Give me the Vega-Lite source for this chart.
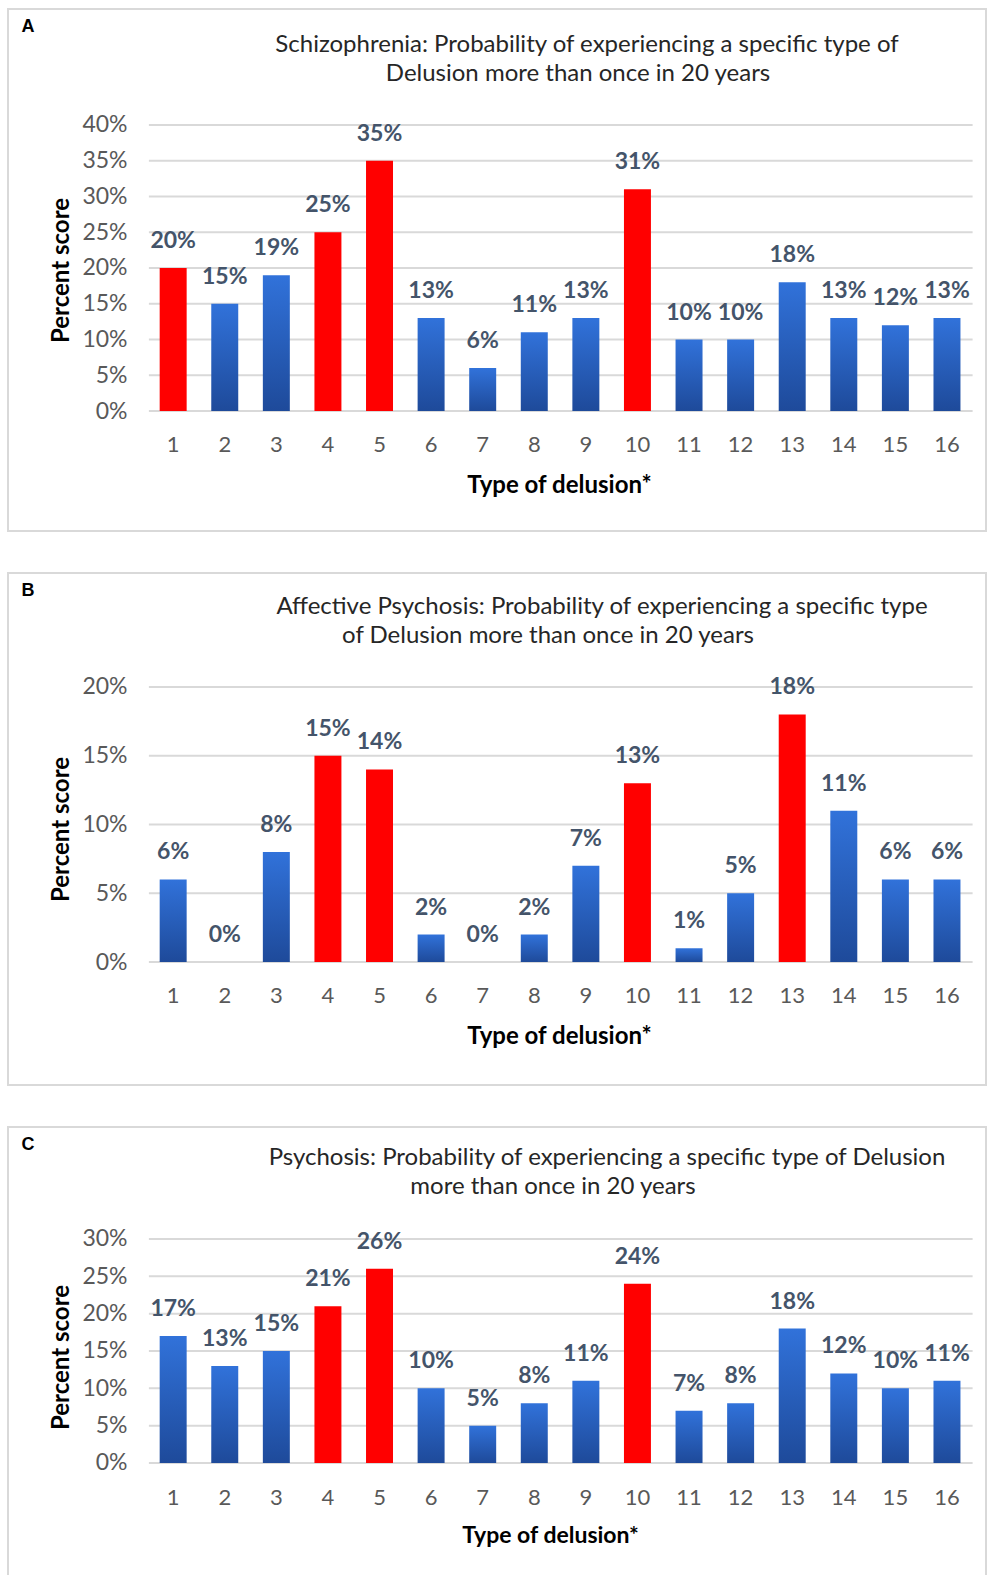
{
  "$schema": "https://vega.github.io/schema/vega-lite/v6.json",
  "padding": {"left": 7, "top": 8, "right": 0, "bottom": 0},
  "background": "white",
  "spacing": 40,
  "config": {
    "view": {"stroke": "#d9d9d9", "strokeWidth": 2},
    "font": "Lato"
  },
  "datasets": {
    "schizo": [
      {"type": 1, "value": 0.20, "group": "highlight"},
      {"type": 2, "value": 0.15, "group": "other"},
      {"type": 3, "value": 0.19, "group": "other"},
      {"type": 4, "value": 0.25, "group": "highlight"},
      {"type": 5, "value": 0.35, "group": "highlight"},
      {"type": 6, "value": 0.13, "group": "other"},
      {"type": 7, "value": 0.06, "group": "other"},
      {"type": 8, "value": 0.11, "group": "other"},
      {"type": 9, "value": 0.13, "group": "other"},
      {"type": 10, "value": 0.31, "group": "highlight"},
      {"type": 11, "value": 0.10, "group": "other"},
      {"type": 12, "value": 0.10, "group": "other"},
      {"type": 13, "value": 0.18, "group": "other"},
      {"type": 14, "value": 0.13, "group": "other"},
      {"type": 15, "value": 0.12, "group": "other"},
      {"type": 16, "value": 0.13, "group": "other"}
    ],
    "affective": [
      {"type": 1, "value": 0.06, "group": "other"},
      {"type": 2, "value": 0.00, "group": "other"},
      {"type": 3, "value": 0.08, "group": "other"},
      {"type": 4, "value": 0.15, "group": "highlight"},
      {"type": 5, "value": 0.14, "group": "highlight"},
      {"type": 6, "value": 0.02, "group": "other"},
      {"type": 7, "value": 0.00, "group": "other"},
      {"type": 8, "value": 0.02, "group": "other"},
      {"type": 9, "value": 0.07, "group": "other"},
      {"type": 10, "value": 0.13, "group": "highlight"},
      {"type": 11, "value": 0.01, "group": "other"},
      {"type": 12, "value": 0.05, "group": "other"},
      {"type": 13, "value": 0.18, "group": "highlight"},
      {"type": 14, "value": 0.11, "group": "other"},
      {"type": 15, "value": 0.06, "group": "other"},
      {"type": 16, "value": 0.06, "group": "other"}
    ],
    "psychosis": [
      {"type": 1, "value": 0.17, "group": "other"},
      {"type": 2, "value": 0.13, "group": "other"},
      {"type": 3, "value": 0.15, "group": "other"},
      {"type": 4, "value": 0.21, "group": "highlight"},
      {"type": 5, "value": 0.26, "group": "highlight"},
      {"type": 6, "value": 0.10, "group": "other"},
      {"type": 7, "value": 0.05, "group": "other"},
      {"type": 8, "value": 0.08, "group": "other"},
      {"type": 9, "value": 0.11, "group": "other"},
      {"type": 10, "value": 0.24, "group": "highlight"},
      {"type": 11, "value": 0.07, "group": "other"},
      {"type": 12, "value": 0.08, "group": "other"},
      {"type": 13, "value": 0.18, "group": "other"},
      {"type": 14, "value": 0.12, "group": "other"},
      {"type": 15, "value": 0.10, "group": "other"},
      {"type": 16, "value": 0.11, "group": "other"}
    ],
    "gridA": [{"value": 0}, {"value": 0.05}, {"value": 0.10}, {"value": 0.15}, {"value": 0.20}, {"value": 0.25}, {"value": 0.30}, {"value": 0.35}, {"value": 0.40}],
    "gridB": [{"value": 0}, {"value": 0.05}, {"value": 0.10}, {"value": 0.15}, {"value": 0.20}],
    "gridC": [{"value": 0}, {"value": 0.05}, {"value": 0.10}, {"value": 0.15}, {"value": 0.20}, {"value": 0.25}, {"value": 0.30}]
  },
  "vconcat": [
    {
      "width": 978,
      "height": 522,
      "title": {
        "text": ["Schizophrenia:  Probability of experiencing a specific type of", "Delusion more than once in 20 years\u2800"],
        "anchor": "middle", "frame": "group", "dx": 90, "offset": -77, "baseline": "top",
        "fontSize": 24, "fontWeight": "normal", "color": "#262626", "lineHeight": 29, "font": "Lato"
      },
      "resolve": {"axis": {"x": "independent"}},
      "encoding": {
        "y": {"field": "value", "type": "quantitative",
          "scale": {"domain": [-0.1678, 0.5622], "nice": false, "zero": false},
          "axis": {"orient": "left", "offset": -125, "values": [0, 0.05, 0.1, 0.15, 0.2, 0.25, 0.3, 0.35, 0.4], "format": ".0%",
            "grid": false, "domain": false, "ticks": false, "tickSize": 0, "labelPadding": 6, "labelFontSize": 23,
            "labelColor": "#595959", "labelBaseline": "middle", "title": "Percent score", "titleFontSize": 24,
            "titleFontWeight": "bold", "titleColor": "#000000", "titleX": -72, "titleBaseline": "middle", "titleAngle": 270}}
      },
      "layer": [
        {
          "data": {"name": "gridA"},
          "mark": {"type": "rule", "color": "#d9d9d9", "strokeWidth": 2},
          "encoding": {
            "x": {"datum": 1, "type": "ordinal", "bandPosition": -0.4,
              "scale": {"type": "band", "range": [141, 965], "paddingInner": 0.477, "paddingOuter": 0.225, "align": 0.46},
              "axis": {"orient": "top", "offset": 0, "labels": false, "ticks": false, "domain": false, "grid": false,
                "title": "A", "titleX": 13, "titleY": 17, "titleAlign": "left", "titleBaseline": "middle", "titleAngle": 0,
                "titleFont": "Liberation Sans", "titleFontSize": 18, "titleFontWeight": "bold", "titleColor": "#000000"}},
            "x2": {"datum": 16, "bandPosition": 1.45}
          }
        },
        {
          "data": {"name": "schizo"},
          "transform": [{"filter": "datum.group === 'other'"}],
          "mark": {"type": "bar", "color": {"gradient": "linear", "x1": 0, "y1": 0, "x2": 0, "y2": 1,
            "stops": [{"offset": 0, "color": "#3172DA"}, {"offset": 1, "color": "#1E4A9A"}]}},
          "encoding": {
            "x": {"field": "type", "type": "ordinal",
              "scale": {"type": "band", "range": [141, 965], "paddingInner": 0.477, "paddingOuter": 0.225, "align": 0.46},
              "axis": {"orient": "bottom", "offset": -110, "labelAngle": 0, "domain": false, "ticks": false, "tickSize": 0,
                "grid": false, "labelPadding": 23, "labelBaseline": "middle", "labelFontSize": 22, "labelColor": "#595959",
                "title": "Type of delusion*", "titleX": 551, "titleY": 64, "titleBaseline": "middle", "titleFontSize": 24,
                "titleFontWeight": "bold", "titleColor": "#000000"}}
          }
        },
        {
          "data": {"name": "schizo"},
          "transform": [{"filter": "datum.group === 'highlight'"}],
          "mark": {"type": "bar", "color": "#ff0000"},
          "encoding": {
            "x": {"field": "type", "type": "ordinal", "scale": {"type": "band", "range": [141, 965], "paddingInner": 0.477, "paddingOuter": 0.225, "align": 0.46}, "axis": null}
          }
        },
        {
          "data": {"name": "schizo"},
          "mark": {"type": "text", "baseline": "middle", "dy": -27, "fontSize": 23, "fontWeight": "bold", "color": "#44546A"},
          "encoding": {
            "x": {"field": "type", "type": "ordinal", "scale": {"type": "band", "range": [141, 965], "paddingInner": 0.477, "paddingOuter": 0.225, "align": 0.46}, "axis": null},
            "text": {"field": "value", "type": "quantitative", "format": ".0%"}
          }
        }
      ]
    },
    {
      "width": 978,
      "height": 512,
      "title": {
        "text": ["Affective Psychosis:  Probability of experiencing a specific type", "of Delusion more than once in 20 years\u2800\u2800\u2800\u2800\u2800\u2800"],
        "anchor": "middle", "frame": "group", "dx": 105, "offset": -75, "baseline": "top",
        "fontSize": 24, "fontWeight": "normal", "color": "#262626", "lineHeight": 29, "font": "Lato"
      },
      "resolve": {"axis": {"x": "independent"}},
      "encoding": {
        "y": {"field": "value", "type": "quantitative",
          "scale": {"domain": [-0.08945, 0.2829], "nice": false, "zero": false},
          "axis": {"orient": "left", "offset": -125, "values": [0, 0.05, 0.1, 0.15, 0.2], "format": ".0%",
            "grid": false, "domain": false, "ticks": false, "tickSize": 0, "labelPadding": 6, "labelFontSize": 23,
            "labelColor": "#595959", "labelBaseline": "middle", "title": "Percent score", "titleFontSize": 24,
            "titleFontWeight": "bold", "titleColor": "#000000", "titleX": -72, "titleBaseline": "middle", "titleAngle": 270}}
      },
      "layer": [
        {
          "data": {"name": "gridB"},
          "mark": {"type": "rule", "color": "#d9d9d9", "strokeWidth": 2},
          "encoding": {
            "x": {"datum": 1, "type": "ordinal", "bandPosition": -0.4,
              "scale": {"type": "band", "range": [141, 965], "paddingInner": 0.477, "paddingOuter": 0.225, "align": 0.46},
              "axis": {"orient": "top", "offset": 0, "labels": false, "ticks": false, "domain": false, "grid": false,
                "title": "B", "titleX": 13, "titleY": 17, "titleAlign": "left", "titleBaseline": "middle", "titleAngle": 0,
                "titleFont": "Liberation Sans", "titleFontSize": 18, "titleFontWeight": "bold", "titleColor": "#000000"}},
            "x2": {"datum": 16, "bandPosition": 1.45}
          }
        },
        {
          "data": {"name": "affective"},
          "transform": [{"filter": "datum.group === 'other'"}],
          "mark": {"type": "bar", "color": {"gradient": "linear", "x1": 0, "y1": 0, "x2": 0, "y2": 1,
            "stops": [{"offset": 0, "color": "#3172DA"}, {"offset": 1, "color": "#1E4A9A"}]}},
          "encoding": {
            "x": {"field": "type", "type": "ordinal",
              "scale": {"type": "band", "range": [141, 965], "paddingInner": 0.477, "paddingOuter": 0.225, "align": 0.46},
              "axis": {"orient": "bottom", "offset": -113, "labelAngle": 0, "domain": false, "ticks": false, "tickSize": 0,
                "grid": false, "labelPadding": 23, "labelBaseline": "middle", "labelFontSize": 22, "labelColor": "#595959",
                "title": "Type of delusion*", "titleX": 551, "titleY": 64, "titleBaseline": "middle", "titleFontSize": 24,
                "titleFontWeight": "bold", "titleColor": "#000000"}}
          }
        },
        {
          "data": {"name": "affective"},
          "transform": [{"filter": "datum.group === 'highlight'"}],
          "mark": {"type": "bar", "color": "#ff0000"},
          "encoding": {
            "x": {"field": "type", "type": "ordinal", "scale": {"type": "band", "range": [141, 965], "paddingInner": 0.477, "paddingOuter": 0.225, "align": 0.46}, "axis": null}
          }
        },
        {
          "data": {"name": "affective"},
          "mark": {"type": "text", "baseline": "middle", "dy": -27, "fontSize": 23, "fontWeight": "bold", "color": "#44546A"},
          "encoding": {
            "x": {"field": "type", "type": "ordinal", "scale": {"type": "band", "range": [141, 965], "paddingInner": 0.477, "paddingOuter": 0.225, "align": 0.46}, "axis": null},
            "text": {"field": "value", "type": "quantitative", "format": ".0%"}
          }
        }
      ]
    },
    {
      "width": 978,
      "height": 460,
      "title": {
        "text": ["Psychosis: Probability of experiencing a specific type of Delusion", "more than once in 20 years\u2800\u2800\u2800\u2800\u2800\u2800"],
        "anchor": "middle", "frame": "group", "dx": 110, "offset": -72, "baseline": "top",
        "fontSize": 24, "fontWeight": "normal", "color": "#262626", "lineHeight": 29, "font": "Lato"
      },
      "resolve": {"axis": {"x": "independent"}},
      "encoding": {
        "y": {"field": "value", "type": "quantitative",
          "scale": {"domain": [-0.1661, 0.45], "nice": false, "zero": false},
          "axis": {"orient": "left", "offset": -125, "values": [0, 0.05, 0.1, 0.15, 0.2, 0.25, 0.3], "format": ".0%",
            "grid": false, "domain": false, "ticks": false, "tickSize": 0, "labelPadding": 6, "labelFontSize": 23,
            "labelColor": "#595959", "labelBaseline": "middle", "title": "Percent score", "titleFontSize": 24,
            "titleFontWeight": "bold", "titleColor": "#000000", "titleX": -72, "titleBaseline": "middle", "titleAngle": 270}}
      },
      "layer": [
        {
          "data": {"name": "gridC"},
          "mark": {"type": "rule", "color": "#d9d9d9", "strokeWidth": 2},
          "encoding": {
            "x": {"datum": 1, "type": "ordinal", "bandPosition": -0.4,
              "scale": {"type": "band", "range": [141, 965], "paddingInner": 0.477, "paddingOuter": 0.225, "align": 0.46},
              "axis": {"orient": "top", "offset": 0, "labels": false, "ticks": false, "domain": false, "grid": false,
                "title": "C", "titleX": 13, "titleY": 17, "titleAlign": "left", "titleBaseline": "middle", "titleAngle": 0,
                "titleFont": "Liberation Sans", "titleFontSize": 18, "titleFontWeight": "bold", "titleColor": "#000000"}},
            "x2": {"datum": 16, "bandPosition": 1.45}
          }
        },
        {
          "data": {"name": "psychosis"},
          "transform": [{"filter": "datum.group === 'other'"}],
          "mark": {"type": "bar", "color": {"gradient": "linear", "x1": 0, "y1": 0, "x2": 0, "y2": 1,
            "stops": [{"offset": 0, "color": "#3172DA"}, {"offset": 1, "color": "#1E4A9A"}]}},
          "encoding": {
            "x": {"field": "type", "type": "ordinal",
              "scale": {"type": "band", "range": [141, 965], "paddingInner": 0.477, "paddingOuter": 0.225, "align": 0.46},
              "axis": {"orient": "bottom", "offset": -114, "labelAngle": 0, "domain": false, "ticks": false, "tickSize": 0,
                "grid": false, "labelPadding": 24, "labelBaseline": "middle", "labelFontSize": 22, "labelColor": "#595959",
                "title": "Type of delusion*", "titleX": 542, "titleY": 62, "titleBaseline": "middle", "titleFontSize": 23,
                "titleFontWeight": "bold", "titleColor": "#000000"}}
          }
        },
        {
          "data": {"name": "psychosis"},
          "transform": [{"filter": "datum.group === 'highlight'"}],
          "mark": {"type": "bar", "color": "#ff0000"},
          "encoding": {
            "x": {"field": "type", "type": "ordinal", "scale": {"type": "band", "range": [141, 965], "paddingInner": 0.477, "paddingOuter": 0.225, "align": 0.46}, "axis": null}
          }
        },
        {
          "data": {"name": "psychosis"},
          "mark": {"type": "text", "baseline": "middle", "dy": -27, "fontSize": 23, "fontWeight": "bold", "color": "#44546A"},
          "encoding": {
            "x": {"field": "type", "type": "ordinal", "scale": {"type": "band", "range": [141, 965], "paddingInner": 0.477, "paddingOuter": 0.225, "align": 0.46}, "axis": null},
            "text": {"field": "value", "type": "quantitative", "format": ".0%"}
          }
        }
      ]
    }
  ]
}
